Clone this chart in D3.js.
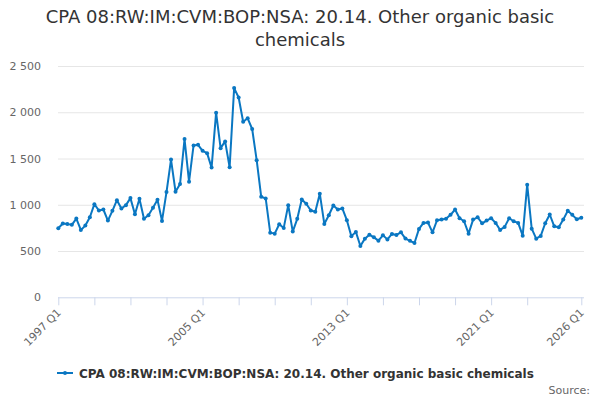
<!DOCTYPE html>
<html>
<head>
<meta charset="utf-8">
<script src="https://cdn.jsdelivr.net/npm/d3@7"></script>
<style>
  html, body { margin: 0; padding: 0; background: #fff; }
  svg { display: block; font-family: "DejaVu Sans", sans-serif; }
</style>
</head>
<body>
<div id="chart"></div>
<script>
// quarterly series, 1997 Q1 .. 2026 Q1
const startYear = 1997;
const values = [
  746, 797, 793, 783, 851, 728, 775, 865, 1007, 938, 949, 829, 935, 1050, 960, 996, 1072, 898, 1065, 848,
  887, 967, 1054, 826, 1137, 1489, 1141, 1224, 1710, 1250, 1641, 1648, 1583, 1558, 1402, 1996, 1612, 1685, 1406, 2261,
  2159, 1898, 1935, 1819, 1482, 1087, 1069, 699, 688, 789, 750, 996, 710, 848, 1058, 1011, 938, 924, 1120,
  793, 887, 992, 949, 960, 833, 659, 707, 554, 634, 677, 648, 612, 670, 626, 685, 674, 702, 635, 610,
  587, 739, 804, 808, 702, 833, 840, 848, 891, 949, 854, 822, 688, 840, 865, 800, 829, 855, 804,
  728, 761, 854, 822, 804, 666, 1217, 742, 634, 663, 800, 895, 767, 757, 840, 935, 891, 844, 859
];
const quarters = values.map((v, i) => `${startYear + Math.floor(i / 4)} Q${(i % 4) + 1}`);

const xTickQuarters = ['1997 Q1', '1999 Q1', '2001 Q1', '2003 Q1', '2005 Q1', '2007 Q1', '2009 Q1',
  '2011 Q1', '2013 Q1', '2015 Q1', '2017 Q1', '2019 Q1', '2021 Q1', '2023 Q1', '2026 Q1'];
const xLabelQuarters = ['1997 Q1', '2005 Q1', '2013 Q1', '2021 Q1', '2026 Q1'];
const yTicks = [0, 500, 1000, 1500, 2000, 2500];

const title = ['CPA 08:RW:IM:CVM:BOP:NSA: 20.14. Other organic basic', 'chemicals'];
const seriesName = 'CPA 08:RW:IM:CVM:BOP:NSA: 20.14. Other organic basic chemicals';

const width = 600, height = 400;
const margin = { top: 66, right: 16, bottom: 103, left: 58 };
const lineColor = '#0a77c2';

const svg = d3.select('#chart').append('svg')
  .attr('width', width)
  .attr('height', height);

const qIndex = q => (+q.slice(0, 4) - startYear) * 4 + (+q.slice(6) - 1);

const x = d3.scaleLinear()
  .domain([0, qIndex('2026 Q1')])
  .range([58.3, 581.3]);
const y = d3.scaleLinear()
  .domain([0, 2500])
  .range([297.3, 66]);

// title
svg.append('text')
  .attr('x', 300).attr('y', 23)
  .attr('text-anchor', 'middle')
  .attr('font-size', 18).attr('fill', '#333')
  .selectAll('tspan').data(title).enter().append('tspan')
  .attr('x', 300).attr('dy', (d, i) => i ? 23 : 0)
  .text(d => d);

// gridlines + y labels
const yFmt = d3.formatLocale({ decimal: ',', thousands: ' ', grouping: [3], currency: ['', ''] }).format(',');
const yAxis = svg.append('g')
  .attr('transform', `translate(${margin.left},0)`)
  .call(d3.axisLeft(y).tickValues(yTicks).tickFormat(yFmt).tickSize(-(width - margin.right - margin.left)).tickPadding(17));
yAxis.select('.domain').remove();
yAxis.selectAll('.tick line').attr('stroke', '#e6e6e6');
yAxis.selectAll('.tick').filter(d => d === 0).select('line').remove();
yAxis.selectAll('.tick text')
  .attr('font-family', '"DejaVu Sans", sans-serif')
  .attr('font-size', 11).attr('fill', '#666');

// x axis
const xAxis = svg.append('g')
  .attr('transform', `translate(0,${y(0)})`)
  .call(d3.axisBottom(x)
    .tickValues(xTickQuarters.map(qIndex))
    .tickSize(8)
    .tickFormat(d => {
      const q = xTickQuarters.find(t => qIndex(t) === d);
      return xLabelQuarters.includes(q) ? q : '';
    }));
xAxis.select('.domain').attr('d', `M${margin.left},0.5H${width - margin.right}`).attr('stroke', '#ccd6eb');
xAxis.selectAll('.tick line').attr('stroke', '#ccd6eb');
xAxis.selectAll('.tick text')
  .attr('font-family', '"DejaVu Sans", sans-serif')
  .attr('font-size', 11).attr('fill', '#666')
  .attr('text-anchor', 'end')
  .attr('x', 0).attr('y', 0).attr('dy', 0)
  .attr('transform', 'translate(3,16) rotate(-45)');

// series line
const line = d3.line()
  .x((d, i) => x(i))
  .y(d => y(d));

svg.append('path')
  .datum(values)
  .attr('fill', 'none')
  .attr('stroke', lineColor)
  .attr('stroke-width', 2)
  .attr('stroke-linejoin', 'round')
  .attr('d', line);

svg.append('g').selectAll('circle')
  .data(values).enter().append('circle')
  .attr('cx', (d, i) => x(i))
  .attr('cy', d => y(d))
  .attr('r', 2)
  .attr('fill', lineColor);

// legend
const legend = svg.append('g').attr('transform', 'translate(57,373)');
legend.append('line')
  .attr('x1', 0).attr('x2', 16)
  .attr('stroke', lineColor).attr('stroke-width', 2);
legend.append('circle')
  .attr('cx', 8).attr('r', 2).attr('fill', lineColor);
legend.append('text')
  .attr('x', 22).attr('y', 5)
  .attr('font-size', 12).attr('font-weight', 'bold').attr('fill', '#333')
  .text(seriesName);

// credits
svg.append('text')
  .attr('x', 590).attr('y', 394)
  .attr('text-anchor', 'end')
  .attr('font-size', 11).attr('fill', '#666')
  .text('Source:');
</script>
</body>
</html>
